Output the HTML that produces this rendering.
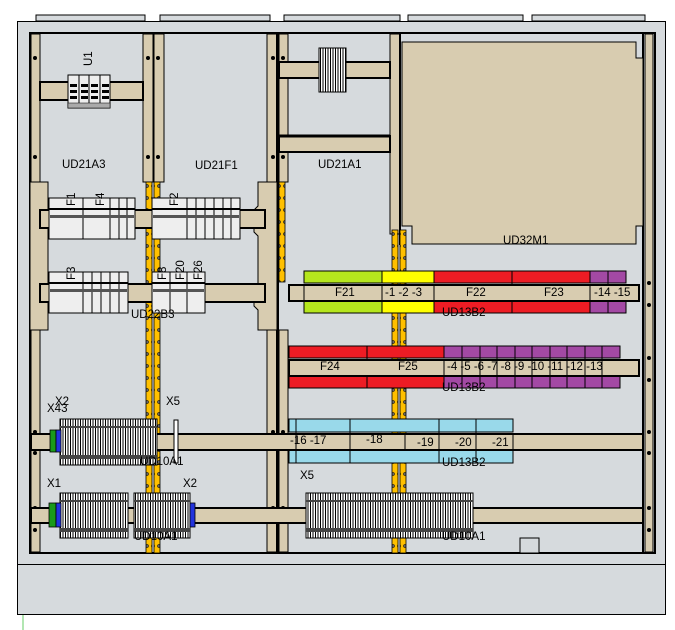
<!DOCTYPE html>
<html><head><meta charset="utf-8"><style>
html,body{margin:0;padding:0;background:#fff;width:675px;height:630px;overflow:hidden}
text{font-family:"Liberation Sans",sans-serif;font-size:11.5px;fill:#000}
</style></head><body>
<svg width="675" height="630" viewBox="0 0 675 630" xmlns="http://www.w3.org/2000/svg">
<defs>
<pattern id="tb" width="2.5" height="10" patternUnits="userSpaceOnUse">
<rect width="2.5" height="10" fill="#fff"/><line x1="0.5" y1="0" x2="0.5" y2="10" stroke="#000" stroke-width="1"/>
</pattern>
<pattern id="yr" width="6" height="12" patternUnits="userSpaceOnUse">
<rect width="6" height="12" fill="#ffc000"/><circle cx="3" cy="6" r="1.6" fill="#666" stroke="#000" stroke-width="0.5"/>
</pattern>
</defs>
<g fill="#d6dadd" stroke="#000">
<rect x="36" y="15" width="109" height="6"/><rect x="160" y="15" width="110" height="6"/>
<rect x="284" y="15" width="116" height="6"/><rect x="408" y="15" width="115" height="6"/><rect x="532" y="15" width="113" height="6"/>
</g>
<rect x="17.5" y="21.5" width="648" height="593" fill="#d6dadd" stroke="#000"/>
<line x1="17" y1="564.5" x2="666" y2="564.5" stroke="#000"/>
<line x1="23" y1="615" x2="23" y2="630" stroke="#6c6"/>
<rect x="30" y="33" width="625" height="520" fill="#d6dadd" stroke="#000" stroke-width="2"/>

<g fill="#d8ccb0" stroke="#000">
<rect x="31" y="34" width="9" height="518"/>
<rect x="143" y="34" width="10" height="148"/><rect x="154" y="34" width="10" height="148"/>
<rect x="267" y="34" width="10" height="148"/><rect x="279" y="34" width="9" height="148"/>
<rect x="390" y="34" width="10" height="200"/>
<rect x="645" y="34" width="8" height="518"/>
<rect x="267" y="330" width="10" height="222"/><rect x="279" y="330" width="9" height="222"/>
<rect x="31" y="330" width="9" height="222"/>
</g>
<line x1="277.5" y1="34" x2="277.5" y2="553" stroke="#000" stroke-width="3"/>
<line x1="643" y1="34" x2="643" y2="553" stroke="#000" stroke-width="2"/>
<line x1="400" y1="34" x2="400" y2="245" stroke="#000" stroke-width="2"/>
<g stroke="#000" stroke-width="0.8">
<rect x="146" y="182" width="6" height="371" fill="url(#yr)"/>
<rect x="154" y="182" width="6" height="371" fill="url(#yr)"/>
<rect x="279" y="182" width="6" height="100" fill="url(#yr)"/>
<rect x="392" y="230" width="6" height="323" fill="url(#yr)"/>
<rect x="400" y="230" width="6" height="323" fill="url(#yr)"/>
</g>
<g fill="#000">
<circle cx="35" cy="58" r="2"/><circle cx="35" cy="157" r="2"/><circle cx="148" cy="58" r="2"/><circle cx="158" cy="58" r="2"/>
<circle cx="148" cy="157" r="2"/><circle cx="158" cy="157" r="2"/><circle cx="273" cy="58" r="2"/><circle cx="283" cy="58" r="2"/>
<circle cx="273" cy="157" r="2"/><circle cx="283" cy="157" r="2"/>
<circle cx="35" cy="194" r="2"/><circle cx="35" cy="318" r="2"/><circle cx="35" cy="432" r="2"/><circle cx="35" cy="453" r="2"/><circle cx="35" cy="508" r="2"/><circle cx="35" cy="530" r="2"/>
<circle cx="273" cy="432" r="2"/><circle cx="283" cy="432" r="2"/><circle cx="273" cy="508" r="2"/><circle cx="283" cy="508" r="2"/>
<circle cx="649" cy="283" r="2"/><circle cx="649" cy="305" r="2"/><circle cx="649" cy="358" r="2"/><circle cx="649" cy="380" r="2"/><circle cx="649" cy="432" r="2"/><circle cx="649" cy="453" r="2"/><circle cx="649" cy="508" r="2"/><circle cx="649" cy="530" r="2"/>
</g>
<rect x="40" y="82" width="103" height="18" fill="#d8ccb0" stroke="#000" stroke-width="2"/>
<rect x="68" y="75" width="42" height="33" fill="#eee" stroke="#000"/>
<g stroke="#000"><line x1="79" y1="75" x2="79" y2="108"/><line x1="89" y1="75" x2="89" y2="108"/><line x1="100" y1="75" x2="100" y2="108"/></g>
<g fill="#000">
<rect x="70" y="84" width="7" height="3"/><rect x="81" y="84" width="7" height="3"/><rect x="91" y="84" width="7" height="3"/><rect x="102" y="84" width="7" height="3"/>
<rect x="70" y="90" width="7" height="3"/><rect x="81" y="90" width="7" height="3"/><rect x="91" y="90" width="7" height="3"/><rect x="102" y="90" width="7" height="3"/>
<rect x="70" y="96" width="7" height="3"/><rect x="81" y="96" width="7" height="3"/><rect x="91" y="96" width="7" height="3"/><rect x="102" y="96" width="7" height="3"/>
</g>
<rect x="68" y="103" width="42" height="5" fill="#aaa" stroke="#000" stroke-width="0.5"/>
<text x="96" y="70" transform="rotate(-90 92 70)">U1</text>

<rect x="279" y="62" width="111" height="16" fill="#d8ccb0" stroke="#000" stroke-width="2"/>
<rect x="319" y="48" width="27" height="44" fill="url(#tb)" stroke="#000"/>
<rect x="279" y="136" width="111" height="16" fill="#d8ccb0" stroke="#000" stroke-width="2"/>
<line x1="279" y1="136" x2="390" y2="136" stroke="#000" stroke-width="3"/>

<path d="M402 42 H636 V58 H643 V226 H636 V244 H412 V226 H402 Z" fill="#d8ccb0" stroke="#000"/>
<text x="503" y="244">UD32M1</text>

<rect x="30" y="182" width="18" height="148" fill="#d8ccb0" stroke="#000"/>
<path d="M258 182 H277 V330 H258 V310 L254 306 V290 L258 286 V236 L254 232 V210 L258 206 Z" fill="#d8ccb0" stroke="#000"/>
<rect x="40" y="210" width="225" height="18" fill="#d8ccb0" stroke="#000" stroke-width="2"/>
<rect x="40" y="284" width="225" height="18" fill="#d8ccb0" stroke="#000" stroke-width="2"/>
<g stroke="#000" fill="#eee">
<rect x="49" y="198" width="86" height="41"/><line x1="83" y1="198" x2="83" y2="239"/><line x1="110" y1="198" x2="110" y2="239"/><line x1="119" y1="198" x2="119" y2="239"/><line x1="127" y1="198" x2="127" y2="239"/>
<rect x="152" y="198" width="88" height="41"/><line x1="187" y1="198" x2="187" y2="239"/><line x1="196" y1="198" x2="196" y2="239"/><line x1="205" y1="198" x2="205" y2="239"/><line x1="214" y1="198" x2="214" y2="239"/><line x1="223" y1="198" x2="223" y2="239"/><line x1="231" y1="198" x2="231" y2="239"/>
<rect x="49" y="272" width="79" height="41"/><line x1="83" y1="272" x2="83" y2="313"/><line x1="92" y1="272" x2="92" y2="313"/><line x1="101" y1="272" x2="101" y2="313"/><line x1="110" y1="272" x2="110" y2="313"/><line x1="119" y1="272" x2="119" y2="313"/>
<rect x="152" y="272" width="53" height="41"/><line x1="170" y1="272" x2="170" y2="313"/><line x1="187" y1="272" x2="187" y2="313"/>
</g>
<g fill="#000"><rect x="49" y="208" width="86" height="2"/><rect x="152" y="208" width="88" height="2"/><rect x="49" y="282" width="79" height="2"/><rect x="152" y="282" width="53" height="2"/>
<rect x="50" y="215" width="84" height="3" fill="#555"/><rect x="153" y="215" width="86" height="3" fill="#555"/><rect x="50" y="289" width="77" height="3" fill="#555"/><rect x="153" y="289" width="51" height="3" fill="#555"/></g>
<text x="75" y="206" transform="rotate(-90 75 206)" font-size="8">F1</text>
<text x="104" y="206" transform="rotate(-90 104 206)" font-size="8">F4</text>
<text x="178" y="206" transform="rotate(-90 178 206)" font-size="8">F2</text>
<text x="75" y="280" transform="rotate(-90 75 280)" font-size="8">F3</text>
<text x="166" y="280" transform="rotate(-90 166 280)" font-size="8">F8</text>
<text x="184" y="280" transform="rotate(-90 184 280)" font-size="8">F20</text>
<text x="202" y="280" transform="rotate(-90 202 280)" font-size="8">F26</text>
<text x="62" y="168">UD21A3</text>
<text x="195" y="169">UD21F1</text>
<text x="318" y="168">UD21A1</text>
<text x="131" y="318">UD22B3</text>

<g stroke="#000">
<rect x="304" y="271" width="78" height="12" fill="#b5e61d"/><rect x="304" y="301" width="78" height="12" fill="#b5e61d"/>
<rect x="382" y="271" width="52" height="12" fill="#ffff00"/><rect x="382" y="301" width="52" height="12" fill="#ffff00"/>
<rect x="434" y="271" width="156" height="12" fill="#ed1c24"/><rect x="434" y="301" width="156" height="12" fill="#ed1c24"/>
<rect x="590" y="271" width="36" height="12" fill="#a349a4"/><rect x="590" y="301" width="36" height="12" fill="#a349a4"/>
<line x1="512" y1="271" x2="512" y2="313"/><line x1="608" y1="271" x2="608" y2="313"/>
<rect x="289" y="285" width="350" height="16" fill="#d8ccb0" stroke-width="2"/>
<line x1="304" y1="285" x2="304" y2="301"/><line x1="382" y1="285" x2="382" y2="301"/><line x1="434" y1="285" x2="434" y2="301"/><line x1="590" y1="285" x2="590" y2="301"/>
</g>
<text x="335" y="296">F21</text><text x="385" y="296" font-size="10">-1  -2  -3</text>
<text x="466" y="296">F22</text><text x="544" y="296">F23</text><text x="594" y="296" font-size="10">-14 -15</text>
<text x="442" y="316">UD13B2</text>

<g stroke="#000">
<rect x="289" y="346" width="155" height="12" fill="#ed1c24"/><rect x="289" y="376" width="155" height="12" fill="#ed1c24"/>
<rect x="444" y="346" width="176" height="12" fill="#a349a4"/><rect x="444" y="376" width="176" height="12" fill="#a349a4"/>
<line x1="367" y1="346" x2="367" y2="388"/>
<rect x="289" y="360" width="350" height="16" fill="#d8ccb0" stroke-width="2"/>
<line x1="444" y1="360" x2="444" y2="376"/>
</g>
<g stroke="#000"><line x1="462" y1="346" x2="462" y2="388"/><line x1="480" y1="346" x2="480" y2="388"/><line x1="497" y1="346" x2="497" y2="388"/><line x1="515" y1="346" x2="515" y2="388"/><line x1="532" y1="346" x2="532" y2="388"/><line x1="550" y1="346" x2="550" y2="388"/><line x1="567" y1="346" x2="567" y2="388"/><line x1="585" y1="346" x2="585" y2="388"/><line x1="602" y1="346" x2="602" y2="388"/></g>
<text x="320" y="370">F24</text><text x="398" y="370">F25</text>
<text x="447" y="370" font-size="9.5">-4  -5  -6  -7  -8  -9  -10 -11 -12 -13</text>
<text x="442" y="391">UD13B2</text>

<g stroke="#000">
<rect x="289" y="419" width="224" height="13" fill="#99d9ea"/><rect x="289" y="450" width="224" height="13" fill="#99d9ea"/>
<line x1="296" y1="419" x2="296" y2="463"/><line x1="350" y1="419" x2="350" y2="463"/><line x1="439" y1="419" x2="439" y2="463"/><line x1="476" y1="419" x2="476" y2="463"/>
<rect x="31" y="434" width="612" height="16" fill="#d8ccb0" stroke-width="2"/>
<line x1="296" y1="434" x2="296" y2="450"/><line x1="350" y1="434" x2="350" y2="450"/><line x1="405" y1="434" x2="405" y2="450"/><line x1="439" y1="434" x2="439" y2="450"/><line x1="476" y1="434" x2="476" y2="450"/><line x1="513" y1="434" x2="513" y2="450"/>
</g>
<text x="290" y="444" font-size="10">-16  -17</text><text x="366" y="443" font-size="10">-18</text><text x="417" y="446" font-size="10">-19</text><text x="455" y="446" font-size="10">-20</text><text x="492" y="446" font-size="10">-21</text>
<text x="442" y="466">UD13B2</text>

<rect x="31" y="508" width="612" height="15" fill="#d8ccb0" stroke="#000" stroke-width="2"/>
<rect x="520" y="538" width="19" height="15" fill="#d6dadd" stroke="#000"/>

<g stroke="#000">
<rect x="60" y="419" width="97" height="46" fill="url(#tb)"/>
<rect x="60" y="493" width="68" height="45" fill="url(#tb)"/>
<rect x="134" y="493" width="56" height="45" fill="url(#tb)"/>
<rect x="306" y="493" width="167" height="45" fill="url(#tb)"/>
<rect x="174" y="420" width="4" height="43" fill="#fff"/>
</g>
<g fill="#444"><rect x="60" y="426" width="97" height="2"/><rect x="60" y="455" width="97" height="4"/><rect x="60" y="500" width="68" height="2"/><rect x="134" y="500" width="56" height="2"/><rect x="306" y="500" width="167" height="2"/><rect x="60" y="528" width="68" height="4"/><rect x="134" y="528" width="56" height="4"/><rect x="306" y="528" width="167" height="4"/></g>
<g stroke="#000" stroke-width="0.8">
<rect x="50" y="430" width="6" height="22" fill="#1a9a1a"/><rect x="56" y="430" width="5" height="22" fill="#2233dd"/>
<rect x="49" y="503" width="7" height="24" fill="#1a9a1a"/><rect x="56" y="503" width="5" height="24" fill="#2233dd"/>
<rect x="190" y="503" width="5" height="24" fill="#2233dd"/>
</g>
<text x="55" y="405">X2</text><text x="47" y="412">X43</text><text x="166" y="405">X5</text>
<text x="47" y="487">X1</text><text x="183" y="487">X2</text><text x="300" y="479">X5</text>
<text x="140" y="465">UD10A1</text><text x="134" y="540">UD10A1</text><text x="442" y="540">UD10A1</text>
</svg>
</body></html>
